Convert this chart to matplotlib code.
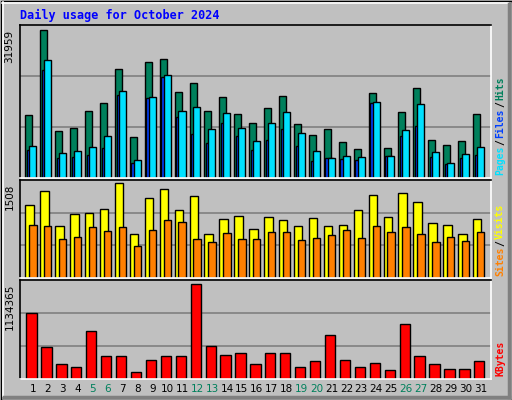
import matplotlib
matplotlib.use("Agg")
import matplotlib.pyplot as plt
from matplotlib.patches import Rectangle
import numpy as np

days = list(range(1, 32))
weekend = [5, 6, 12, 13, 19, 20, 26, 27]
hits = [13520, 31959, 10267, 10917, 14388, 16123, 23498, 8965, 25016, 25667, 18509, 20461, 14388, 17424, 13737, 11785,
        15038, 17641, 11568, 9399, 10700, 7881, 6362, 18292, 6579, 14171, 19376, 8315, 7230, 8098, 13737]
files = [7013, 25450, 5495, 5929, 6796, 9182, 18726, 3977, 17424, 22196, 14388, 15255, 10700, 13954, 10917, 8098,
         11785, 14171, 9833, 5929, 4410, 4844, 4627, 16340, 4844, 10484, 15906, 5712, 3326, 5278, 6796]
pages = [6146, 23281, 4410, 4627, 5061, 6579, 17858, 3326, 17207, 21762, 13086, 9616, 7664, 11785, 9182, 6146,
         8315, 10700, 7013, 3760, 4410, 4193, 3977, 16123, 4844, 9182, 11134, 4627, 3109, 4410, 5061]
visits = [1164, 1393, 836, 1016, 1033, 1098, 1508, 705, 1279, 1426, 1082, 1311, 705, 934, 984, 787,
          967, 918, 836, 951, 836, 852, 1082, 1328, 967, 1361, 1213, 869, 852, 705, 934]
sites = [852, 836, 623, 656, 820, 754, 820, 508, 770, 918, 885, 623, 574, 721, 623, 623,
         738, 738, 607, 639, 688, 770, 639, 836, 738, 820, 705, 574, 656, 590, 738]
kbytes = [786600, 376740, 178020, 140760, 575460, 277380, 277380, 78660, 227700, 277380, 277380, 1134365, 389160,
          289800, 314640, 178020, 314640, 314640, 140760, 215280, 525780, 227700, 140760, 190440, 103500, 649980,
          277380, 178020, 115920, 115920, 215280]

W, H = 512, 400
fig = plt.figure(figsize=(W/100, H/100), dpi=100)
fig.patch.set_facecolor("#C0C0C0")
bg = fig.add_axes([0, 0, 1, 1]); bg.set_xlim(0, W); bg.set_ylim(H, 0); bg.axis("off")
bg.add_patch(Rectangle((0.5, 0.5), W-1, H-1, fill=False, ec="black", lw=1))
bg.plot([2, W-4], [2.5, 2.5], color="white", lw=1.2); bg.plot([2.5, 2.5], [2, H-4], color="white", lw=1.2)
bg.plot([4, W-3], [H-3, H-3], color="#808080", lw=2.5); bg.plot([W-3, W-3], [4, H-3], color="#808080", lw=2.5)
bg.text(20, 15, "Daily usage for October 2024", color="#0000FF", fontsize=8.5, fontweight="bold",
        family="DejaVu Sans Mono", va="center", ha="left")

x = np.array(days)
mono = "DejaVu Sans Mono"

def panel(top, bottom, ymax, ratio):
    ax = fig.add_axes([20/W, 1-bottom/H, (491-20)/W, (bottom-top)/H])
    ax.set_facecolor("#C0C0C0")
    ax.set_xlim(0.13, 31.69)
    ax.set_ylim(0, ymax*ratio)
    for f in (1/3, 2/3):
        ax.axhline(ymax*ratio*f, color="#808080", lw=1.2, zorder=0)
    ax.set_xticks([]); ax.set_yticks([])
    for s in ("left", "top"):
        ax.spines[s].set_color("black")
    for s in ("right", "bottom"):
        ax.spines[s].set_color("white")
    for s in ax.spines.values():
        s.set_linewidth(1.2)
    ax.text(-0.012, 1-(ratio-1)/ratio, f"{ymax}", transform=ax.transAxes, rotation=90, ha="right", va="top",
            fontsize=7.5, family="DejaVu Sans")
    return ax

kw = dict(align="edge", edgecolor="black", linewidth=1)
a1 = panel(25, 178, max(hits), 1.035)
a1.bar(x-0.51, hits, 0.47, color="#00805C", **kw)
a1.bar(x-0.40, pages, 0.47, color="#0040FF", **kw)
a1.bar(x-0.25, files, 0.47, color="#00E0FF", **kw)

a2 = panel(180, 278, max(visits), 1.036)
a2.bar(x-0.51, visits, 0.56, color="#FFFF00", **kw)
a2.bar(x-0.25, sites, 0.49, color="#FF8000", **kw)

a3 = panel(280, 379, max(kbytes), 1.037)
a3.bar(x-0.44, kbytes, 0.69, color="#FF0000", **kw)

for d in days:
    a3.text(d, -0.05, str(d), transform=a3.get_xaxis_transform(), ha="center", va="top", fontsize=7.5,
            color="#00805C" if d in weekend else "black")

renderer = fig.canvas.get_renderer()

def rlabel(ybottom, parts):
    # parts drawn bottom to top, starting at pixel ybottom (from top)
    y = ybottom
    for s, c in parts:
        t = bg.text(500, y, s, rotation=90, color=c, fontsize=7, family=mono, fontweight="bold",
                    ha="center", va="bottom")
        ext = t.get_window_extent(renderer)
        y -= ext.height + 1

rlabel(175, [("Pages", "#00E0FF"), ("/", "#000000"), ("Files", "#0040FF"), ("/", "#000000"), ("Hits", "#00805C")])
rlabel(276, [("Sites", "#FF8000"), ("/", "#000000"), ("Visits", "#FFFF00")])
rlabel(376, [("KBytes", "#FF0000")])

fig.savefig("out.png", dpi=100, facecolor=fig.get_facecolor())
